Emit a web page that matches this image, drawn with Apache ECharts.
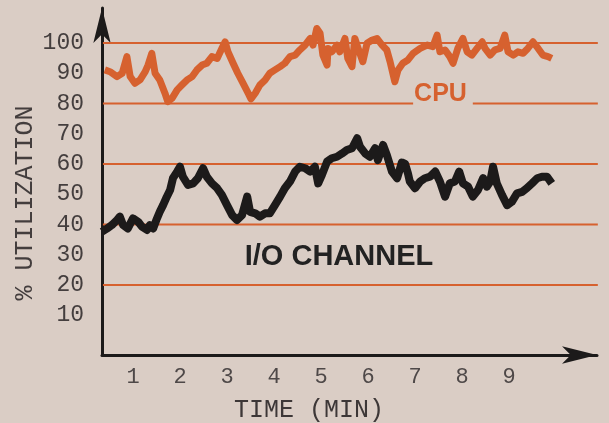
<!DOCTYPE html>
<html>
<head>
<meta charset="utf-8">
<script src="https://cdn.jsdelivr.net/npm/echarts@6/dist/echarts.min.js"></script>
<style>
html,body{margin:0;padding:0;background:#dacdc5;}
#c{width:609px;height:423px;}
</style>
</head>
<body>
<div id="c"></div>
<script>
// ---- data ----
const xTicks = [1, 2, 3, 4, 5, 6, 7, 8, 9];
const yTicks = [10, 20, 30, 40, 50, 60, 70, 80, 90, 100];
const gridLevels = [20, 40, 60, 80, 100];

const cpuTime = [0.40,0.51,0.66,0.77,0.87,0.94,1.04,1.15,1.26,1.32,1.40,1.47,1.57,1.68,1.74,1.83,1.94,2.04,2.15,2.26,2.36,2.47,2.57,2.68,2.79,2.89,2.96,3.02,3.13,3.23,3.34,3.45,3.51,3.60,3.70,3.81,3.91,4.02,4.13,4.23,4.34,4.45,4.55,4.66,4.77,4.83,4.91,4.98,5.04,5.13,5.15,5.23,5.34,5.40,5.51,5.57,5.66,5.72,5.79,5.89,5.98,6.09,6.19,6.30,6.40,6.47,6.57,6.64,6.74,6.85,6.96,7.11,7.26,7.38,7.47,7.53,7.64,7.74,7.81,7.91,8.02,8.11,8.21,8.32,8.43,8.49,8.60,8.70,8.81,8.91,8.98,9.09,9.19,9.30,9.40,9.51,9.62,9.72,9.83,9.91];
const cpuValues = [91.1,90.5,88.9,90.0,95.5,88.9,86.7,87.8,90.5,92.7,96.6,90.0,87.8,83.4,80.6,81.7,84.5,86.1,87.8,88.9,91.1,92.7,93.3,95.5,94.9,98.2,100.4,97.1,93.3,90.0,86.7,83.4,81.5,83.4,86.1,87.8,90.0,91.1,92.2,93.3,95.5,96.0,97.7,99.3,101.5,99.3,104.8,103.2,96.0,92.7,98.2,97.1,99.3,97.1,101.5,94.9,92.2,101.5,98.2,93.8,99.9,101.0,101.5,99.3,97.7,93.8,87.2,91.1,93.3,94.4,96.6,98.2,99.3,98.8,102.6,97.1,97.7,95.5,93.3,98.2,101.5,97.1,96.0,98.2,100.4,98.2,96.0,97.7,98.2,102.6,97.1,96.0,97.1,96.6,98.2,100.4,98.2,96.0,95.5,94.9];

const ioTime = [0.34,0.45,0.55,0.66,0.72,0.79,0.89,1.00,1.11,1.19,1.30,1.36,1.43,1.51,1.57,1.64,1.72,1.79,1.85,1.94,2.00,2.06,2.17,2.28,2.38,2.49,2.57,2.68,2.79,2.89,3.00,3.11,3.21,3.32,3.43,3.49,3.60,3.70,3.81,3.91,4.02,4.13,4.23,4.34,4.45,4.55,4.66,4.77,4.87,4.94,5.02,5.13,5.23,5.34,5.45,5.55,5.66,5.77,5.83,5.94,6.04,6.15,6.21,6.32,6.40,6.51,6.62,6.72,6.79,6.85,6.89,7.00,7.11,7.21,7.32,7.43,7.53,7.64,7.74,7.85,7.94,8.02,8.13,8.23,8.34,8.45,8.53,8.60,8.66,8.74,8.85,8.96,9.06,9.17,9.28,9.38,9.49,9.60,9.70,9.81,9.91];
const ioValues = [37.6,38.7,39.8,41.5,42.6,39.8,38.7,42.0,40.9,39.3,38.2,39.8,38.7,42.0,44.2,46.4,49.2,51.4,55.3,57.5,59.1,55.8,53.1,53.6,55.3,58.6,55.8,53.6,52.0,49.8,46.4,43.1,41.5,43.1,49.2,44.2,43.7,42.6,43.7,43.7,46.4,49.2,52.0,54.2,57.5,59.1,58.6,57.5,59.1,53.6,56.4,60.8,61.9,62.4,63.5,64.6,65.2,68.5,65.7,63.5,62.4,65.2,61.3,66.3,63.0,57.5,55.3,60.5,60.0,56.9,54.2,52.0,54.2,55.3,55.8,57.5,54.2,49.2,53.6,54.2,57.5,53.6,52.5,49.2,51.4,55.3,52.5,54.2,59.1,53.6,49.8,46.4,47.5,50.3,50.8,52.0,53.6,55.3,55.8,55.8,53.6];

// ---- build chart ----
const ORANGE = '#d6612f';
const INK = '#1c1a1a';
const lineStart = 0.36, lineEnd = 10.89;
const cpuGap = [6.96, 8.23];

function pairs(xs, ys) { return xs.map((x, i) => [x, ys[i]]); }

const gridSeries = [];
gridLevels.forEach(v => {
  const spans = v === 80 ? [[lineStart, cpuGap[0]], [cpuGap[1], lineEnd]] : [[lineStart, lineEnd]];
  spans.forEach(s => {
    gridSeries.push({
      type: 'line', xAxisIndex: 1, yAxisIndex: 1, silent: true, symbol: 'none', z: 1,
      data: [[s[0], v], [s[1], v]],
      lineStyle: { color: ORANGE, width: 2 }
    });
  });
});

const chart = echarts.init(document.getElementById('c'));
const monoFont = '"Liberation Mono", "DejaVu Sans Mono", monospace';
chart.setOption({
  backgroundColor: '#dacdc5',
  animation: false,
  grid: [
    { left: 102, right: 12, top: 8, bottom: 68 },
    { left: 86, right: 6, top: 12.75, bottom: 77.5 }
  ],
  xAxis: [
    { gridIndex: 0, type: 'value', min: 0, max: 1,
      axisLine: { show: true, symbol: ['none', 'arrow'], symbolSize: [13, 35], lineStyle: { color: INK, width: 3 } },
      axisTick: { show: false }, axisLabel: { show: false }, splitLine: { show: false } },
    { gridIndex: 1, type: 'value', min: 0, max: 11, interval: 1,
      axisLine: { show: false }, axisTick: { show: false }, splitLine: { show: false },
      axisLabel: { margin: 21, fontFamily: monoFont, fontSize: 22, color: '#4e4848',
        formatter: v => xTicks.includes(v) ? String(v) : '' } }
  ],
  yAxis: [
    { gridIndex: 0, type: 'value', min: 0, max: 1,
      axisLine: { show: true, symbol: ['none', 'arrow'], symbolSize: [13, 35], lineStyle: { color: INK, width: 3 } },
      axisTick: { show: false }, axisLabel: { show: false }, splitLine: { show: false } },
    { gridIndex: 1, type: 'value', min: 0, max: 110, interval: 10,
      axisLine: { show: false }, axisTick: { show: false }, splitLine: { show: false },
      axisLabel: { margin: 2, fontFamily: monoFont, fontSize: 23, color: '#443e3e', padding: [10, 0, 0, 0],
        formatter: v => yTicks.includes(v) ? String(v) : '' } }
  ],
  graphic: [
    { type: 'text', x: 25, y: 203, rotation: Math.PI / 2,
      style: { text: '% UTILIZATION', fontFamily: monoFont, fontSize: 25, fill: '#433d3d', align: 'center', verticalAlign: 'middle' } },
    { type: 'text', x: 309, y: 410,
      style: { text: 'TIME (MIN)', fontFamily: monoFont, fontSize: 25, fill: '#3d3737', align: 'center', verticalAlign: 'middle' } },
    { type: 'text', x: 440.5, y: 94,
      style: { text: 'CPU', fontFamily: '"Liberation Sans", Arial, sans-serif', fontWeight: 'bold', fontSize: 25, fill: ORANGE, align: 'center', verticalAlign: 'middle' } },
    { type: 'text', x: 339, y: 257,
      style: { text: 'I/O CHANNEL', fontFamily: '"Liberation Sans", Arial, sans-serif', fontWeight: 'bold', fontSize: 29, fill: '#222', align: 'center', verticalAlign: 'middle' } }
  ],
  series: gridSeries.concat([
    { name: 'CPU', type: 'line', xAxisIndex: 1, yAxisIndex: 1, symbol: 'none', z: 3,
      data: pairs(cpuTime, cpuValues),
      lineStyle: { color: ORANGE, width: 7, join: 'round' } },
    { name: 'I/O CHANNEL', type: 'line', xAxisIndex: 1, yAxisIndex: 1, symbol: 'none', z: 3,
      data: pairs(ioTime, ioValues),
      lineStyle: { color: INK, width: 8, join: 'round' } }
  ])
});
</script>
</body>
</html>
